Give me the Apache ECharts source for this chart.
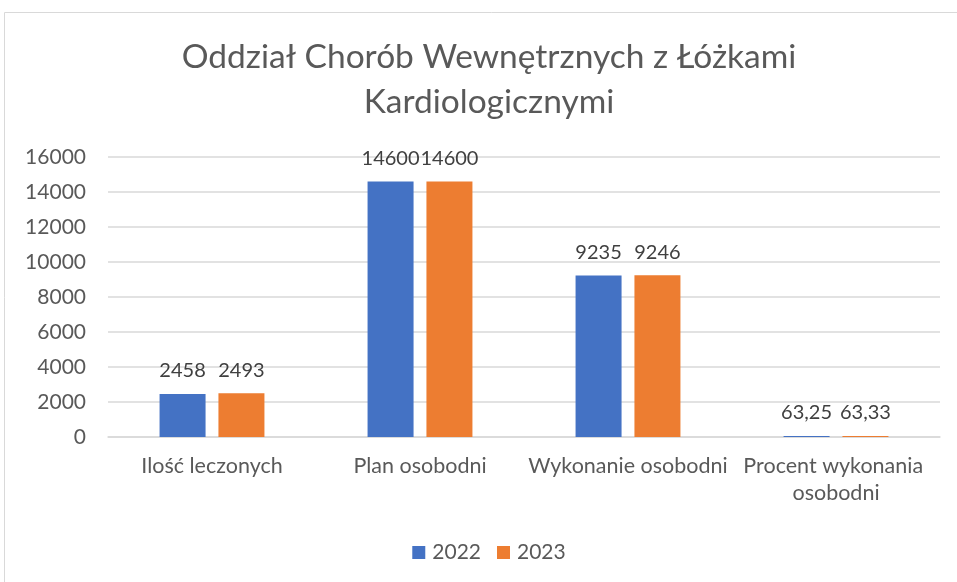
<!DOCTYPE html>
<html>
<head>
<meta charset="utf-8">
<script src="https://cdn.jsdelivr.net/npm/echarts@6/dist/echarts.min.js"></script>
<style>
  html, body { margin: 0; padding: 0; background: #fff; overflow: hidden; }
  #chart { width: 978px; height: 582px; }
</style>
</head>
<body>
<div id="chart"></div>
<script>
// dane z wykresu
const categories = ['Ilość leczonych', 'Plan osobodni', 'Wykonanie osobodni', 'Procent wykonania osobodni'];
const seriesNames = ['2022', '2023'];
const values2022 = [2458, 14600, 9235, 63.25];
const values2023 = [2493, 14600, 9246, 63.33];
const yTicks = { min: 0, max: 16000, interval: 2000 };

const textColor = '#595959';
const font = 'Lato, "Open Sans", sans-serif';

let chart = echarts.init(document.getElementById('chart'));

function fmt(v) {
    return String(v).replace('.', ',');
}

function barSeries(name, data, color) {
    return {
        name: name,
        type: 'bar',
        data: data,
        barWidth: 46,
        barGap: '28%',
        itemStyle: { color: color },
        label: {
            show: true,
            position: 'top',
            distance: 13,
            color: '#404040',
            fontFamily: font,
            fontSize: 20,
            formatter: p => fmt(p.value)
        }
    };
}

chart.setOption({
    animation: false,
    title: {
        text: 'Oddział Chorób Wewnętrznych z Łóżkami\nKardiologicznymi',
        left: 'center',
        top: 35,
        padding: 0,
        textStyle: {
            color: textColor,
            fontFamily: font,
            fontSize: 33.5,
            fontWeight: 'normal',
            lineHeight: 45
        }
    },
    graphic: [
        {
            type: 'rect',
            shape: { x: 4.5, y: 12.5, width: 2000, height: 2000 },
            style: { fill: 'none', stroke: '#d9d9d9', lineWidth: 1 },
            silent: true
        }
    ],
    legend: {
        bottom: 14,
        left: 'center',
        itemWidth: 13,
        itemHeight: 13,
        itemGap: 16,
        icon: 'rect',
        textStyle: { color: textColor, fontFamily: font, fontSize: 21, padding: [0, 0, 0, 2] },
        data: seriesNames
    },
    grid: {
        left: 108,
        right: 38,
        top: 157,
        bottom: 145,
        containLabel: false
    },
    xAxis: {
        type: 'category',
        data: categories,
        axisTick: { show: false },
        axisLine: { lineStyle: { color: '#d9d9d9', width: 1.5 } },
        axisLabel: {
            interval: 0,
            margin: 16,
            color: textColor,
            fontFamily: font,
            fontSize: 21.5,
            lineHeight: 27,
            width: 215,
            overflow: 'break'
        }
    },
    yAxis: {
        type: 'value',
        min: yTicks.min,
        max: yTicks.max,
        interval: yTicks.interval,
        axisLine: { show: false },
        axisTick: { show: false },
        axisLabel: {
            margin: 22,
            color: textColor,
            fontFamily: font,
            fontSize: 21,
            formatter: v => String(v)
        },
        splitLine: { lineStyle: { color: '#d9d9d9', width: 1.5 } }
    },
    series: [
        barSeries(seriesNames[0], values2022, '#4472C4'),
        barSeries(seriesNames[1], values2023, '#ED7D31')
    ]
});
</script>
</body>
</html>
